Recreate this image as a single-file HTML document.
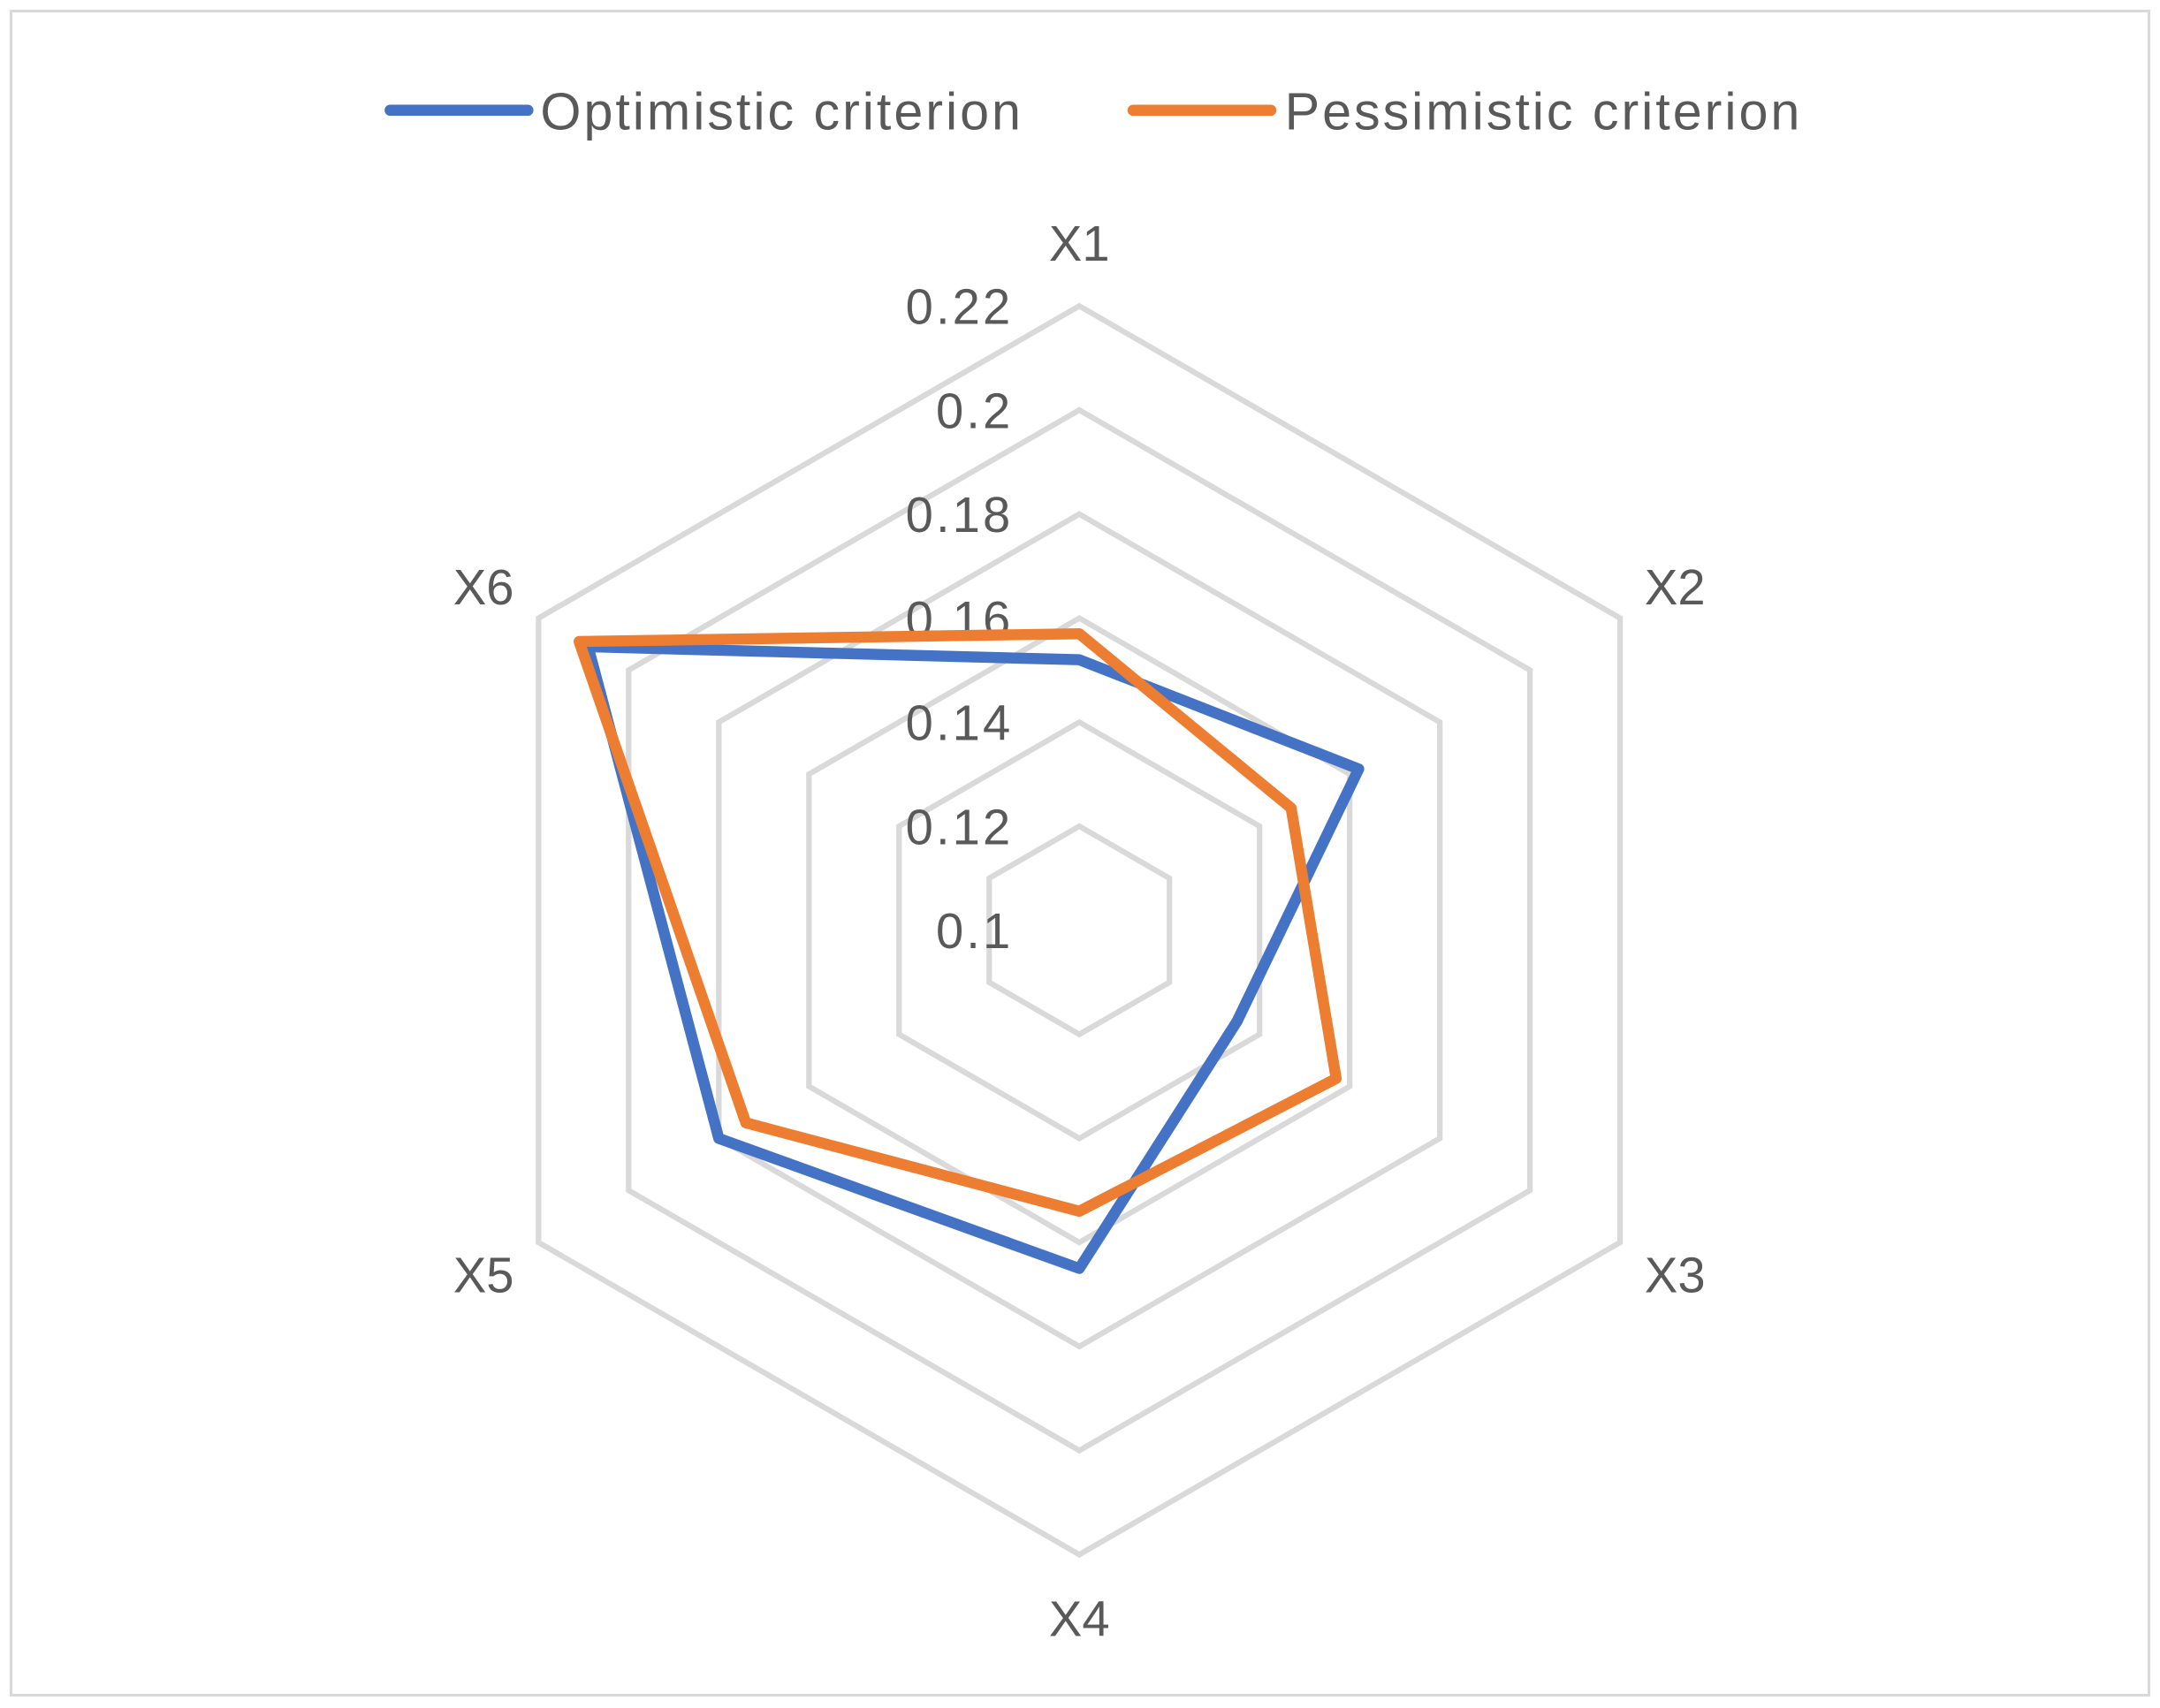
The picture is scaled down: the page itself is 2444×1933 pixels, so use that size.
<!DOCTYPE html>
<html><head><meta charset="utf-8"><style>
html,body{margin:0;padding:0;background:#fff}
svg{display:block}
text{font-family:"Liberation Sans",sans-serif;fill:#595959}
</style></head><body>
<svg id="chart" width="2444" height="1933" viewBox="0 0 1567 1239.3" preserveAspectRatio="none" xmlns="http://www.w3.org/2000/svg">
<rect x="8" y="8" width="1551" height="1222" fill="#fff" stroke="#d9d9d9" stroke-width="2"/>
<g id="legend">
<g><line x1="283" y1="80" x2="383" y2="80" stroke="#4472c4" stroke-width="8" stroke-linecap="round"/><text x="392" y="94" font-size="38" letter-spacing="1.9">Optimistic criterion</text></g>
<g><line x1="822" y1="80" x2="922" y2="80" stroke="#ed7d31" stroke-width="8" stroke-linecap="round"/><text x="932" y="94" font-size="38" letter-spacing="1.9">Pessimistic criterion</text></g>
</g>
<g id="grid"></g><g id="ticks"></g><g id="cats"></g><g id="series"></g>
</svg>
<script>
const categories=["X1","X2","X3","X4","X5","X6"];
const ticks=[0.1,0.12,0.14,0.16,0.18,0.2,0.22];
const tickLabels=["0.1","0.12","0.14","0.16","0.18","0.2","0.22"];
const optimistic=[0.152,0.162,0.135,0.165,0.180,0.209];
const pessimistic=[0.157,0.147,0.157,0.154,0.174,0.211];
const NS="http://www.w3.org/2000/svg";
const cx=783,cy=675,R=453,vmin=0.1,vmax=0.22;
function r(v){return (v-vmin)/(vmax-vmin)*R;}
function pt(i,rad){const a=-Math.PI/2+i*2*Math.PI/categories.length;return [cx+rad*Math.cos(a),cy+rad*Math.sin(a)];}
function el(tag,attrs,parent){const e=document.createElementNS(NS,tag);for(const k in attrs)e.setAttribute(k,attrs[k]);document.getElementById(parent).appendChild(e);return e;}
ticks.forEach((t,j)=>{
  if(j>0){
    const p=el('polygon',{points:categories.map((c,i)=>pt(i,r(t)).join(',')).join(' '),fill:'none',stroke:'#d9d9d9','stroke-width':4},'grid');
    
    
  }
  const tx=el('text',{x:735,y:cy-r(t)+13,'font-size':36,'text-anchor':'end','letter-spacing':2},'ticks');
  tx.textContent=tickLabels[j];
  
  
});
categories.forEach((c,i)=>{
  const [x,y]=pt(i,499);
  const tx=el('text',{x:x,y:y+13,'font-size':36,'text-anchor':'middle'},'cats');
  tx.textContent=c;
  
  
});
[[optimistic,'#4472c4','optimistic-series'],[pessimistic,'#ed7d31','pessimistic-series']].forEach(([d,col,nm])=>{
  const p=el('polygon',{points:d.map((v,i)=>pt(i,r(v)).join(',')).join(' '),fill:'none',stroke:col,'stroke-width':8,'stroke-linejoin':'round'},'series');
  
  
});
</script>
</body></html>
